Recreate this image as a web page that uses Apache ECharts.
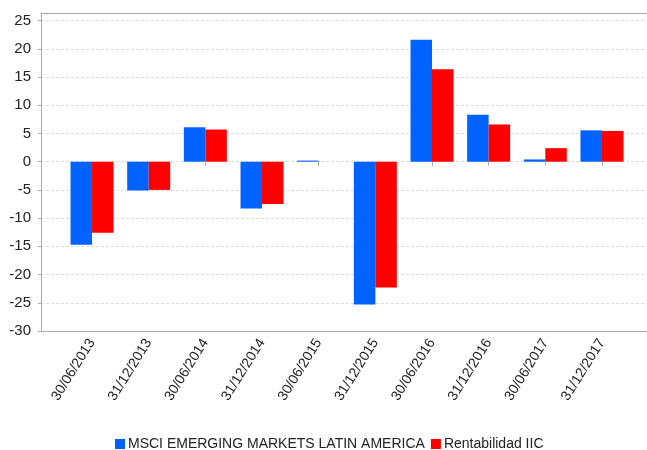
<!DOCTYPE html>
<html>
<head>
<meta charset="utf-8">
<script src="https://cdn.jsdelivr.net/npm/echarts@6/dist/echarts.min.js"></script>
<style>html,body{margin:0;padding:0;background:#fff;}#c{width:647px;height:450px;}</style>
</head>
<body>
<div id="c"></div>
<script>
var categories = ['30/06/2013','31/12/2013','30/06/2014','31/12/2014','30/06/2015','31/12/2015','30/06/2016','31/12/2016','30/06/2017','31/12/2017'];
var msciValues = [-14.7, -5.1, 6.1, -8.3, 0.2, -25.3, 21.6, 8.3, 0.4, 5.55];
var iicValues = [-12.6, -5.0, 5.7, -7.5, 0.0, -22.3, 16.4, 6.6, 2.4, 5.45];
var seriesNames = ['MSCI EMERGING MARKETS LATIN AMERICA', 'Rentabilidad IIC'];
var yMin = -30, yMax = 26.35, yStep = 5;

var chart = echarts.init(document.getElementById('c'));
var font = 'Liberation Sans, Arial, sans-serif';
var borderAxis = function (pos) {
  return {gridIndex: 0, type: 'value', min: 0, max: 1, position: pos,
    axisLine: {show: true, onZero: false, lineStyle: {color: '#aaa'}},
    axisTick: {show: false}, axisLabel: {show: false}, splitLine: {show: false}};
};
chart.setOption({
  animation: false,
  backgroundColor: '#fff',
  textStyle: {fontFamily: font},
  grid: [
    {left: 41, right: 0, top: 13, bottom: 119},
    {left: 63.7, right: 16.7, top: 13, bottom: 119}
  ],
  legend: {
    left: 110, top: 432, itemWidth: 10, itemHeight: 10, itemGap: 6,
    icon: 'rect',
    textStyle: {fontSize: 14, color: '#222', fontFamily: font, padding: [0,0,0,-2]},
    data: seriesNames
  },
  xAxis: [
    borderAxis('bottom'),
    {gridIndex: 1, type: 'category', data: categories,
      axisLine: {show: false},
      axisTick: {show: true, alignWithLabel: true, length: 4, lineStyle: {color: '#aaa'}},
      axisLabel: {rotate: 58, fontSize: 14, color: '#222', margin: 9, interval: 0, fontFamily: font}
    },
    borderAxis('top')
  ],
  yAxis: [
    {gridIndex: 0, type: 'value', min: yMin, max: yMax, interval: yStep,
      axisLine: {show: true, lineStyle: {color: '#aaa'}},
      axisTick: {show: true, length: 3, lineStyle: {color: '#aaa'}},
      axisLabel: {fontSize: 15, color: '#222', margin: 10, showMaxLabel: false, fontFamily: font},
      splitLine: {show: true, lineStyle: {color: '#ddd', type: [3,2]}}
    },
    {gridIndex: 1, type: 'value', min: yMin, max: yMax, interval: yStep, show: false, splitLine: {show: false}}
  ],
  series: [
    {name: seriesNames[0], type: 'bar', xAxisIndex: 1, yAxisIndex: 1, data: msciValues, barWidth: 21.5, barGap: '0%', itemStyle: {color: '#0062FF'}},
    {name: seriesNames[1], type: 'bar', xAxisIndex: 1, yAxisIndex: 1, data: iicValues, barWidth: 21.5, barGap: '0%', itemStyle: {color: '#FF0000'}}
  ]
});
</script>
</body>
</html>
